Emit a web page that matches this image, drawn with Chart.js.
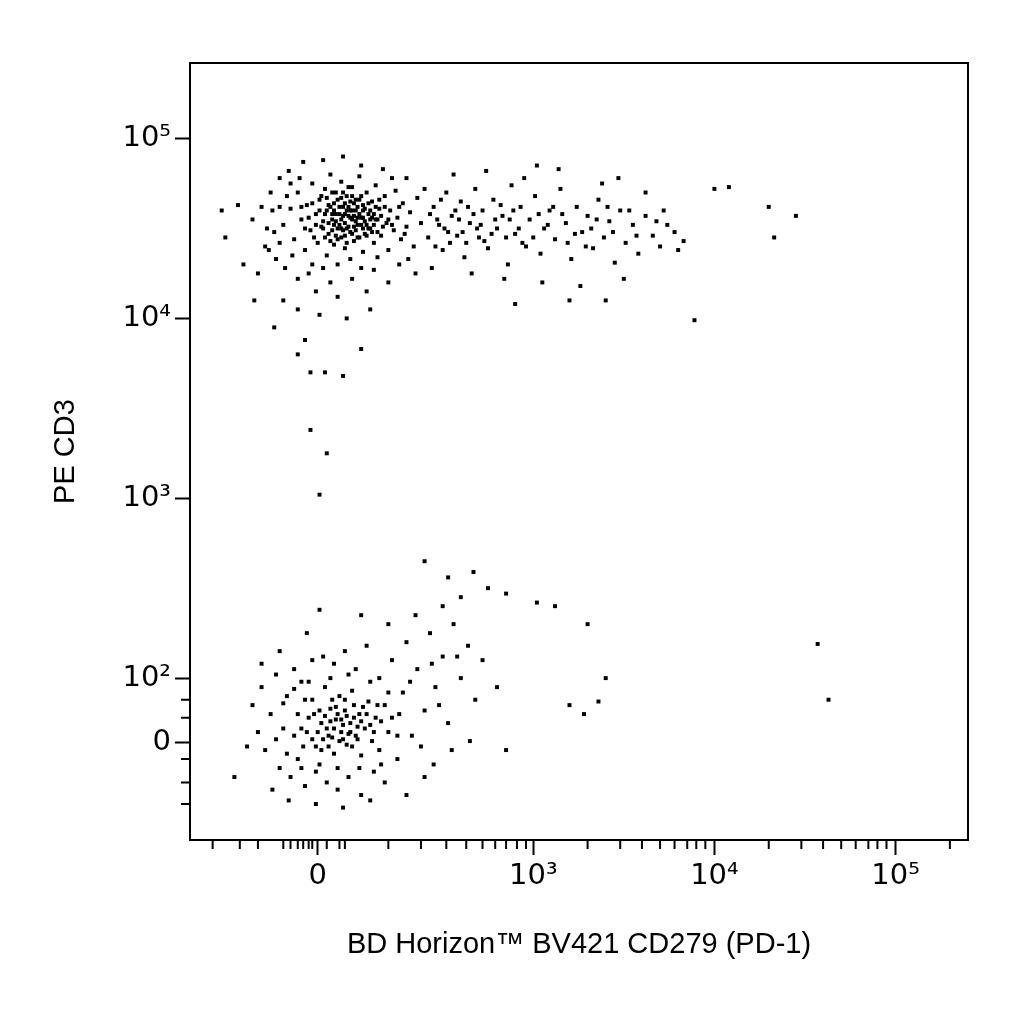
<!DOCTYPE html>
<html><head><meta charset="utf-8">
<script src="https://cdn.jsdelivr.net/npm/chart.js@4"></script>
<style>html,body{margin:0;padding:0;background:#fff}#w{width:1024px;height:1024px}</style>
</head><body><div id="w"><canvas id="c"></canvas></div>
<script>
// Values in display (log10-like, logicle) units; 0 is placed at its display position.
const xMajor = [1.81, 3, 4, 5];
const xMajorLabels = ["0", "10³", "10⁴", "10⁵"];
const xMinor = [1.23,1.38,1.48,1.62,1.66,1.70,1.73,1.76,1.78,1.86,1.93,1.96,2.20,2.38,2.52,2.63,2.72,2.79,2.85,2.91,2.96,3.30,3.48,3.60,3.70,3.78,3.85,3.90,3.95,4.30,4.48,4.60,4.70,4.78,4.85,4.90,4.95,5.30];
const yMajor = [5, 4, 3, 2, 1.64];
const yMajorLabels = ["10⁵", "10⁴", "10³", "10²", "0"];
const yMinor = [1.88,1.78,1.55,1.42,1.30];

const upperCore = "1.62,4.52 1.66,4.61 1.68,4.44 1.70,4.70 1.72,4.55 1.74,4.38 1.75,4.63 1.77,4.49 1.78,4.75 1.80,4.58 1.81,4.42 1.82,4.66 1.83,4.51 1.85,4.72 1.86,4.35 1.86,4.60 1.87,4.47 1.88,4.80 1.89,4.55 1.90,4.64 1.90,4.41 1.91,4.70 1.92,4.50 1.93,4.58 1.94,4.45 1.94,4.76 1.95,4.62 1.96,4.53 1.96,4.39 1.97,4.68 1.98,4.57 1.99,4.48 2.00,4.73 2.00,4.60 2.01,4.43 2.02,4.66 2.03,4.52 2.04,4.79 2.05,4.56 2.06,4.37 2.06,4.63 2.07,4.47 2.08,4.70 2.09,4.58 2.10,4.50 2.11,4.65 2.12,4.42 2.13,4.74 2.14,4.55 2.15,4.61 2.16,4.46 2.18,4.68 2.19,4.53 2.20,4.38 2.21,4.60 2.23,4.49 2.24,4.71 2.25,4.56 2.27,4.44 2.28,4.64 2.30,4.51 2.32,4.59 2.34,4.40 2.36,4.67 2.38,4.53 1.84,4.54 1.88,4.62 1.92,4.44 1.95,4.70 1.98,4.51 2.01,4.57 2.04,4.45 2.07,4.61 2.10,4.55 1.93,4.52 1.97,4.60 2.02,4.49 1.86,4.67 1.91,4.58 2.05,4.68 2.08,4.52 1.99,4.65 1.89,4.49 2.12,4.58 1.96,4.46 2.03,4.62 1.94,4.67 1.87,4.53 2.00,4.55 2.06,4.50 1.90,4.60 2.11,4.48 1.98,4.73 1.85,4.45 2.15,4.66";
const upperCore2 = "1.84,4.50 1.85,4.58 1.87,4.63 1.88,4.43 1.89,4.70 1.90,4.52 1.91,4.46 1.92,4.66 1.93,4.62 1.94,4.55 1.95,4.49 1.95,4.57 1.96,4.64 1.97,4.50 1.97,4.42 1.98,4.62 1.99,4.56 2.00,4.47 2.00,4.68 2.01,4.51 2.02,4.60 2.02,4.54 2.03,4.45 2.04,4.58 2.04,4.66 2.05,4.52 2.06,4.60 2.07,4.54 2.08,4.46 2.09,4.64 2.09,4.50 2.10,4.60 2.11,4.56 2.12,4.52 2.13,4.62 2.14,4.48 2.16,4.57 2.17,4.51 2.18,4.62 2.20,4.55 1.80,4.52 1.82,4.60 1.79,4.45 1.83,4.68 1.76,4.56 1.78,4.64 1.74,4.50 1.72,4.62 2.22,4.52 2.26,4.62 2.29,4.47 1.91,4.54 1.99,4.60 2.06,4.56 1.94,4.50 2.01,4.64 1.89,4.58 2.13,4.55 1.96,4.58 2.03,4.56";
const upperHalo = "1.45,4.55 1.50,4.62 1.52,4.40 1.55,4.70 1.58,4.33 1.60,4.78 1.57,4.48 1.63,4.28 1.65,4.82 1.70,4.22 1.73,4.87 1.76,4.25 1.80,4.15 1.84,4.88 1.88,4.20 1.92,4.12 1.95,4.90 2.00,4.22 2.05,4.85 2.08,4.15 2.12,4.27 2.17,4.83 2.20,4.20 2.26,4.30 2.30,4.78 2.35,4.25 2.40,4.72 1.62,4.10 1.70,4.05 1.82,4.02 1.97,4.00 2.10,4.05 1.46,4.10 1.57,3.95 1.74,3.88 1.30,4.45 1.37,4.63 1.40,4.30 1.28,4.60 1.48,4.25 1.53,4.50 1.56,4.60 1.60,4.42 1.64,4.68 1.67,4.35 1.71,4.78 1.78,4.30 1.84,4.28 1.92,4.30 1.99,4.33 2.05,4.28 2.14,4.34 2.22,4.78 2.31,4.33 1.66,4.75 1.60,4.62 1.54,4.38";
const upperTail = "2.42,4.45 2.45,4.62 2.48,4.52 2.50,4.38 2.52,4.70 2.55,4.57 2.58,4.46 2.60,4.65 2.62,4.34 2.65,4.53 2.68,4.72 2.70,4.45 2.72,4.60 2.75,4.39 2.78,4.66 2.80,4.50 2.83,4.57 2.86,4.30 2.88,4.74 2.90,4.47 2.93,4.62 2.96,4.40 2.98,4.55 3.01,4.68 3.04,4.36 3.06,4.50 3.09,4.60 3.12,4.44 3.15,4.72 3.18,4.53 3.21,4.33 3.24,4.62 3.27,4.48 3.30,4.57 3.33,4.39 3.36,4.66 3.39,4.45 3.42,4.54 3.45,4.31 3.48,4.60 3.51,4.42 3.55,4.52 3.58,4.36 3.62,4.57 3.66,4.46 3.70,4.40 3.74,4.52 3.78,4.48 3.83,4.43 2.44,4.28 2.56,4.80 2.66,4.25 2.74,4.82 2.84,4.22 2.95,4.78 3.05,4.20 3.14,4.83 3.26,4.18 3.38,4.75 3.50,4.22 3.62,4.70 3.20,4.10 2.90,4.08 3.02,4.85 3.47,4.78 2.47,4.55 2.53,4.48 2.57,4.60 2.63,4.42 2.67,4.58 2.71,4.52 2.77,4.47 2.82,4.63 2.87,4.55 2.92,4.50 3.00,4.45 3.08,4.52 3.16,4.58 3.23,4.47 3.32,4.50 3.44,4.48 2.43,4.58 2.46,4.40 2.49,4.66 2.51,4.50 2.54,4.42 2.59,4.55 2.61,4.48 2.64,4.62 2.69,4.50 2.73,4.43 2.79,4.55 2.85,4.45 2.89,4.60 2.94,4.42 3.03,4.58 3.11,4.62 3.19,4.42 3.29,4.40 3.35,4.55 3.41,4.62 3.53,4.60 3.57,4.46 3.68,4.54 3.72,4.60 3.80,4.38 4.00,4.72 4.08,4.73 4.30,4.62 4.33,4.45 4.45,4.57 3.89,3.99 3.40,4.10";
const middle = "1.70,3.80 1.77,3.70 1.85,3.70 1.95,3.68 2.05,3.83 1.77,3.38 1.86,3.25 1.82,3.02 2.40,2.65 2.53,2.56 2.67,2.59 1.82,2.38";
const lowerCore = "1.70,1.80 1.75,1.70 1.78,1.88 1.80,1.62 1.83,1.75 1.85,1.95 1.87,1.68 1.88,1.83 1.90,1.58 1.91,1.77 1.93,1.90 1.94,1.70 1.96,1.82 1.97,1.63 1.99,1.75 2.00,1.93 2.02,1.68 2.04,1.80 2.05,1.57 2.07,1.72 2.09,1.87 2.11,1.65 2.13,1.78 2.15,1.60 2.18,1.85 2.20,1.70 1.82,1.82 1.86,1.72 1.89,1.67 1.92,1.80 1.95,1.74 1.98,1.69 2.01,1.78 2.03,1.73 1.88,1.76 1.93,1.65 1.76,1.78 1.73,1.62 2.08,1.80 1.84,1.66 1.81,1.70 1.85,1.79 1.87,1.62 1.90,1.72 1.91,1.84 1.94,1.77 1.95,1.66 1.97,1.79 1.99,1.70 2.00,1.62 2.01,1.85 2.03,1.66 2.05,1.76 2.06,1.84 2.10,1.74 2.12,1.70 2.16,1.76 1.78,1.66 1.79,1.80 1.83,1.60 1.89,1.88 1.96,1.88 2.14,1.85 1.72,1.72 1.68,1.68 1.74,1.88 2.22,1.78 2.25,1.68";
const lowerHalo = "1.45,1.85 1.48,1.70 1.50,1.95 1.52,1.60 1.55,1.80 1.58,2.02 1.60,1.50 1.62,1.72 1.64,1.90 1.66,1.45 1.68,2.05 1.70,1.55 1.72,1.98 1.74,1.40 1.78,2.10 1.80,1.48 1.84,2.12 1.86,1.42 1.90,2.08 1.92,1.38 1.96,2.15 1.98,1.45 2.02,2.05 2.05,1.35 2.08,2.18 2.12,1.48 2.15,2.00 2.18,1.42 2.22,2.10 2.25,1.55 2.28,1.92 2.30,2.20 2.33,1.68 2.36,2.05 2.40,1.82 2.43,2.25 2.46,1.95 2.50,2.12 2.53,1.75 2.56,2.30 2.60,2.00 2.64,2.18 2.68,1.88 2.72,2.10 1.42,1.62 1.56,1.38 1.65,1.32 1.80,1.30 1.95,1.28 2.10,1.32 2.30,1.35 2.45,1.52 2.35,2.35 2.50,2.40 2.60,2.45 2.75,2.50 2.20,2.30 2.05,2.35 1.75,2.25 1.60,2.15 1.50,2.08 2.40,1.45 2.55,1.60 2.65,1.65 2.85,1.60 2.80,1.95 1.58,1.66 1.62,1.86 1.64,1.58 1.68,1.94 1.72,1.50 1.76,1.98 1.82,1.52 1.88,2.00 1.92,1.50 1.98,2.02 2.04,1.50 2.10,1.98 2.16,1.52 2.20,1.92 2.26,1.80 2.32,1.98 2.38,1.62 2.44,2.08 2.48,1.85 2.58,2.12 1.35,1.45 3.20,1.85 3.28,1.80 3.36,1.87 3.40,2.00 3.30,2.30 3.12,2.40 3.02,2.42 2.85,2.47 4.57,2.19 4.63,1.88";

const parse = s => s.trim().split(/\s+/).map(p => { const [x, y] = p.split(',').map(Number); return {x, y}; });
const events = [upperCore, upperCore2, upperHalo, upperTail, middle, lowerCore, lowerHalo].flatMap(parse);

const FONT = "'DejaVu Sans', 'Liberation Sans', sans-serif";
const TFONT = "'Liberation Sans', Arial, sans-serif";
const boxAndMinor = {
  id: 'boxAndMinor',
  afterDraw(chart) {
    const {ctx, chartArea: a, scales: {x, y}} = chart;
    ctx.save();
    ctx.strokeStyle = '#000'; ctx.lineWidth = 2;
    ctx.strokeRect(a.left, a.top, a.right - a.left, a.bottom - a.top);
    ctx.beginPath();
    xMinor.forEach(v => { const p = x.getPixelForValue(v); ctx.moveTo(p, a.bottom); ctx.lineTo(p, a.bottom + 9); });
    yMinor.forEach(v => { const p = y.getPixelForValue(v); ctx.moveTo(a.left, p); ctx.lineTo(a.left - 9, p); });
    ctx.stroke();
    ctx.restore();
  }
};

new Chart(document.getElementById('c'), {
  type: 'scatter',
  data: { datasets: [{ data: events, backgroundColor: '#000', borderWidth: 0, pointStyle: 'rect', pointRadius: 2.8, pointHoverRadius: 2.8 }] },
  options: {
    responsive: true, maintainAspectRatio: false, animation: false,
    layout: { padding: { top: 63, right: 56, left: 45, bottom: 62 } },
    plugins: { legend: { display: false }, tooltip: { enabled: false } },
    scales: {
      x: {
        type: 'linear', min: 1.105, max: 5.40,
        afterBuildTicks: s => { s.ticks = xMajor.map(v => ({value: v})); },
        afterFit: s => { s.height = 1024 - 840 - 62; },
        ticks: { autoSkip: false, maxRotation: 0, color: '#000', font: { family: FONT, size: 29 }, padding: 4,
          callback: v => { const i = xMajor.indexOf(v); return i >= 0 ? xMajorLabels[i] : ''; } },
        grid: { drawOnChartArea: false, tickLength: 15, tickWidth: 2, color: '#000' },
        border: { display: false },
        title: { display: true, text: 'BD Horizon™ BV421 CD279 (PD-1)', color: '#000', font: { family: TFONT, size: 29 }, padding: { top: 0, bottom: 0 } }
      },
      y: {
        type: 'linear', min: 1.10, max: 5.42,
        afterBuildTicks: s => { s.ticks = yMajor.map(v => ({value: v})); },
        afterFit: s => { s.width = 190 - 45; },
        ticks: { autoSkip: false, color: '#000', font: { family: FONT, size: 29 }, padding: 4,
          callback: v => { const i = yMajor.indexOf(v); return i >= 0 ? yMajorLabels[i] : ''; } },
        grid: { drawOnChartArea: false, tickLength: 15, tickWidth: 2, color: '#000' },
        border: { display: false },
        title: { display: true, text: 'PE CD3', color: '#000', font: { family: TFONT, size: 29 }, padding: { bottom: 0 } }
      }
    }
  },
  plugins: [boxAndMinor]
});
</script></body></html>
